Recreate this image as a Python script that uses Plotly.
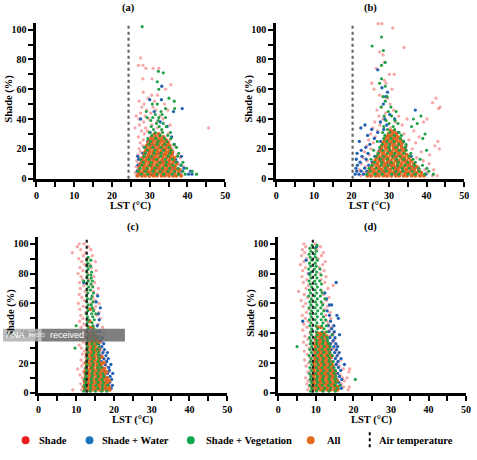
import plotly.graph_objects as go

# ---------------- data ----------------
series_names = ["Shade", "Shade + Water", "Shade + Vegetation", "All"]
panel_labels = ["(a)", "(b)", "(c)", "(d)"]
air_temp = [24.4, 20.3, 12.8, 9.2]

# panel (a)
a_shade_y = [2, 4, 6, 8, 10, 12, 14, 16, 18, 20, 22, 24, 26, 28, 30, 32, 34, 36, 38, 40,
             42, 44, 46, 48, 50, 52, 54, 56, 58, 60, 63, 67, 74, 76, 81]
a_shade_x = [
    [26.5, 28.2, 30.1, 33.4, 36.8, 38.5], [26.2, 27.5, 31.5, 35.6, 38.2], [26.8, 29.3, 34.1, 37.4],
    [26.4, 28.7, 32.6, 36.2, 38.9], [27.1, 30.4, 35.1, 37.6], [26.6, 29.1, 33.8, 36.9],
    [27.4, 31.2, 35.5, 38.1], [26.9, 28.5, 34.4, 37.2], [27.6, 30.8, 36.3], [27.2, 29.6, 33.1, 35.9],
    [28.1, 31.7, 36.6], [27.5, 29.9, 34.7], [28.3, 32.4, 35.3], [27.0, 30.2, 33.6], [28.6, 31.4, 34.9],
    [27.8, 29.4, 33.2], [26.1, 28.9, 32.0, 45.6], [27.3, 30.6, 35.4], [28.4, 31.9], [27.1, 29.8, 33.5],
    [26.4, 28.8, 32.7], [27.6, 30.3], [29.2, 31.6, 34.8], [27.9, 30.9], [28.5, 33.9], [27.2, 31.3],
    [29.6], [30.5, 32.1], [28.3], [34.2], [35.6], [28.2, 30.6], [29.0, 30.9, 32.4], [27.0, 28.2], [27.6],
]
a_water_y = [3, 5, 7, 9, 11, 13, 15, 17, 19, 21, 23, 25, 28, 31, 35, 38, 40, 45, 47, 53, 62]
a_water_x = [
    [27.0, 30.5, 34.2, 37.9, 40.3, 41.2], [26.7, 29.4, 33.1, 38.6, 40.8], [27.3, 31.8, 36.4, 39.1],
    [26.9, 30.2, 35.7, 38.3], [27.8, 33.6, 37.2], [27.1, 31.0, 36.8], [26.8, 29.7, 34.9, 38.4],
    [28.2, 32.5, 36.0], [29.1, 35.3], [28.6, 33.4], [30.7, 36.5], [29.5, 34.1], [31.6, 35.8],
    [30.1], [34.6], [32.8], [27.6], [31.2, 36.3], [38.6], [30.0, 33.1], [33.2],
]
a_veg_y = [3, 5, 7, 9, 11, 13, 15, 17, 19, 21, 23, 25, 27, 29, 31, 33, 35, 37, 39, 41, 43, 45, 47,
           50, 52, 54, 60, 65, 71, 72, 102]
a_veg_x = [
    [27.8, 29.5, 31.9, 33.7, 36.0, 37.6, 39.4, 42.4], [26.9, 28.8, 30.9, 32.8, 34.9, 36.6, 38.8, 41.3],
    [27.4, 29.3, 31.3, 33.4, 35.3, 37.5, 39.8], [27.9, 30.1, 32.0, 34.3, 36.2, 38.3],
    [28.3, 30.4, 32.7, 34.5, 36.9, 38.8], [27.6, 29.8, 31.8, 34.1, 36.0], [28.5, 30.5, 32.9, 34.9, 37.4],
    [28.9, 31.2, 33.1, 35.4, 37.7], [29.4, 31.4, 33.7, 35.7], [28.7, 30.8, 33.0, 35.1, 37.1],
    [29.8, 32.0, 34.0, 36.4], [30.2, 32.2, 34.6], [29.5, 31.6, 33.9, 35.6], [30.6, 32.8, 34.8],
    [29.9, 31.5, 33.4, 35.5], [31.0, 33.2], [30.4, 32.5, 34.4], [31.8, 33.6], [30.3, 32.3],
    [29.3, 30.8, 32.4, 34.2], [31.5, 33.3], [33.0, 29.1], [34.2, 36.6], [30.7, 32.0], [36.5], [35.1],
    [32.4], [32.0], [33.6], [32.3], [28.0],
]
a_all_y = [2, 4, 6, 8, 10, 12, 14, 16, 18, 20, 22, 24, 26, 28, 30]
a_all_x = [
    [26.8, 27.9, 28.8, 29.9, 31.0, 31.9, 33.1, 34.0, 35.1, 36.2, 37.1, 38.3],
    [27.1, 28.2, 29.3, 30.2, 31.3, 32.4, 33.3, 34.4, 35.3, 36.5, 37.6],
    [27.4, 28.5, 29.5, 30.6, 31.6, 32.7, 33.7, 34.7, 35.8, 36.8, 37.9],
    [27.3, 28.4, 29.4, 30.5, 31.5, 32.5, 33.6, 34.6, 35.7, 36.7],
    [27.7, 28.7, 29.8, 30.8, 31.9, 32.9, 33.9, 35.0, 36.0, 37.1],
    [28.0, 29.0, 30.0, 31.1, 32.1, 33.2, 34.2, 35.2, 36.3],
    [28.2, 29.2, 30.3, 31.3, 32.3, 33.4, 34.5, 35.5, 36.5],
    [28.6, 29.7, 30.7, 31.7, 32.8, 33.8, 34.8, 35.9],
    [28.8, 29.9, 30.9, 32.0, 33.0, 34.1, 35.1, 35.9],
    [29.1, 30.1, 31.2, 32.2, 33.3, 34.3, 35.4],
    [29.2, 30.2, 31.3, 32.3, 33.4, 34.4, 35.3],
    [29.6, 30.6, 31.7, 32.7, 33.8, 34.9],
    [30.1, 31.1, 32.2, 33.2, 34.3],
    [30.6, 31.6, 32.7, 33.7],
    [31.3, 32.4],
]

# panel (b)
b_shade_y = [2, 4, 6, 8, 10, 12, 14, 16, 18, 20, 22, 24, 25, 26, 28, 30, 32, 34, 36, 38, 40, 42,
             44, 46, 47, 48, 50, 51, 54, 56, 60, 64, 66, 70, 74, 78, 83, 85, 88, 101, 104]
b_shade_x = [
    [22.5, 25.3, 28.9, 33.8, 38.4, 41.6, 42.8], [23.4, 26.7, 31.2, 36.5, 40.2],
    [22.1, 24.8, 29.7, 35.1, 39.6, 41.9], [23.8, 27.4, 32.9, 37.8], [22.6, 25.9, 30.6, 36.9, 40.7],
    [24.2, 28.2, 34.3, 39.1], [23.1, 26.4, 31.8, 37.4], [24.7, 29.3, 35.6, 40.8],
    [23.5, 27.1, 33.2, 38.6], [25.2, 30.1, 36.2, 43.4], [24.1, 28.6, 34.7, 42.2], [25.8, 31.4, 37.1],
    [43.0], [24.6, 29.0, 35.3], [26.3, 32.2, 38.0], [25.1, 29.8, 34.0], [27.0, 31.0, 36.6],
    [25.7, 30.4], [27.6, 33.5], [26.2, 31.7, 39.2], [28.4, 34.8, 40.1], [27.3, 32.6], [29.1],
    [26.8, 31.2], [43.2], [28.0, 43.6], [30.3], [41.6], [29.6, 42.5], [27.5], [26.0, 30.8],
    [25.4, 29.2], [28.8], [30.1, 31.4], [26.6], [28.7], [28.4], [27.5], [34.0], [31.0], [27.1, 28.1],
]
b_water_y = [3, 5, 7, 9, 11, 13, 15, 17, 19, 21, 23, 25, 27, 29, 31, 33, 34, 36, 38, 40, 43, 46,
             50, 55, 58, 61, 73]
b_water_x = [
    [21.0, 22.0, 23.2, 26.9, 31.6, 36.4, 39.8], [21.4, 22.6, 24.1, 28.8, 33.5, 37.9],
    [21.2, 23.5, 27.3, 32.1, 36.8], [21.6, 24.6, 30.4, 35.2], [22.3, 25.5, 29.6, 34.6],
    [21.3, 23.9, 28.1, 33.7], [22.8, 26.2, 31.9, 35.9], [21.5, 24.4, 30.8], [22.6, 27.5, 33.0],
    [23.8, 29.2, 34.3], [24.9, 31.3], [22.1, 27.8, 33.9], [26.1, 30.6], [24.3, 29.9], [27.0, 32.4],
    [25.4, 28.6], [22.5], [23.6, 29.4], [27.7], [28.9, 31.5], [30.2], [37.0], [28.5], [29.1], [29.6],
    [28.1], [27.0],
]
b_veg_y = [3, 5, 7, 9, 11, 13, 15, 17, 19, 21, 23, 25, 27, 29, 30, 31, 33, 35, 37, 39, 40, 42, 45,
           48, 52, 55, 62, 64, 67, 76, 78, 86, 89, 95]
b_veg_x = [
    [24.1, 26.3, 28.2, 30.7, 32.6, 35.1, 37.0, 39.5, 41.8], [25.0, 27.4, 29.3, 31.8, 33.7, 36.2, 38.1, 40.6],
    [24.7, 26.6, 29.1, 31.0, 33.5, 35.4, 37.9, 40.1], [25.5, 27.9, 29.8, 32.3, 34.2, 36.7, 38.9],
    [26.2, 28.1, 30.6, 32.5, 35.0, 37.0], [25.2, 27.6, 29.5, 32.0, 33.9, 36.4, 38.3],
    [26.6, 28.5, 31.0, 32.9, 35.4], [27.1, 29.6, 31.5, 34.0, 35.8], [25.9, 28.3, 30.2, 32.7, 34.6, 40.0],
    [27.5, 29.9, 31.8, 34.3], [28.2, 30.1, 32.6, 34.5], [26.9, 29.4, 31.3, 33.8], [28.6, 30.5, 33.0, 39.0],
    [28.9, 31.4, 33.3], [39.6], [28.3, 30.2, 32.7], [29.6, 31.5], [28.6, 31.1, 36.0], [30.0, 32.4, 37.5],
    [29.2, 31.6], [36.5], [28.7, 30.7, 38.5], [29.8, 31.9], [27.9, 30.5], [29.0], [28.4, 29.5], [29.0],
    [27.5], [28.0], [28.0], [29.0], [28.5], [25.5], [28.0],
]
b_all_y = [2, 4, 6, 8, 10, 12, 14, 16, 18, 20, 22, 24, 26, 28, 30, 32]
b_all_x = [
    [24.2, 25.2, 26.4, 27.3, 28.5, 29.5, 30.6, 31.8, 32.7, 33.9, 34.8, 36.0, 37.0, 38.2, 39.3],
    [24.6, 25.8, 26.7, 27.9, 28.8, 30.0, 31.0, 32.2, 33.1, 34.3, 35.3, 36.5, 37.4, 38.6],
    [25.0, 26.0, 27.2, 28.1, 29.3, 30.3, 31.5, 32.4, 33.6, 34.6, 35.8, 36.7, 37.9],
    [25.4, 26.6, 27.5, 28.7, 29.6, 30.8, 31.7, 32.9, 34.0, 35.1, 36.1, 37.3],
    [25.9, 26.9, 28.1, 29.0, 30.2, 31.1, 32.3, 33.3, 34.5, 35.4, 36.6],
    [26.3, 27.4, 28.4, 29.6, 30.5, 31.7, 32.6, 33.8, 34.7, 35.9],
    [26.8, 27.7, 28.9, 29.8, 31.0, 31.9, 33.2, 34.1, 35.3],
    [27.1, 28.3, 29.2, 30.4, 31.3, 32.5, 33.5, 34.7],
    [27.6, 28.6, 29.8, 30.7, 31.9, 32.8, 34.0],
    [28.0, 29.2, 30.1, 31.3, 32.2, 33.4, 34.3],
    [28.1, 29.1, 30.2, 31.2, 32.3, 33.3],
    [28.4, 29.4, 30.5, 31.5, 32.6, 33.5],
    [28.9, 29.9, 31.0, 32.0, 33.1],
    [29.4, 30.4, 31.4, 32.4],
    [29.9, 30.9, 31.9],
    [30.4, 31.4],
]

# panel (c)
c_shade_y = [2, 4, 6, 8, 10, 12, 14, 16, 18, 20, 22, 24, 26, 28, 30, 32, 34, 36, 38, 40, 42, 44,
             46, 48, 50, 52, 54, 56, 58, 60, 62, 64, 66, 68, 70, 72, 74, 76, 78, 80, 82, 84, 86, 88,
             90, 92, 94, 96, 98, 100]
c_shade_x = [
    [9.1, 11.4], [11.8, 12.6], [11.2, 18.6], [12.1, 18.9], [11.6, 18.4], [11.0, 12.4], [11.9, 18.7],
    [10.4, 12.3], [11.5, 17.9], [12.0, 13.3], [11.3, 17.6], [12.5, 13.8], [11.7, 16.9], [12.2, 17.2],
    [11.4, 13.6, 16.5], [10.8, 12.7], [11.9, 16.8], [11.1, 12.9], [12.3, 16.2], [11.6, 17.4],
    [12.8, 14.1], [11.3, 17.0], [12.1, 15.8], [10.9, 13.4], [11.8, 16.4], [11.2, 15.5], [12.6, 16.0],
    [11.0, 14.8], [11.9, 15.2], [10.6, 13.9, 16.1], [12.2, 15.0], [11.5, 14.4], [10.8, 15.6],
    [12.4, 14.6], [11.1, 15.9], [12.0, 14.2], [10.9, 14.9], [11.7, 13.5], [11.3, 14.7], [10.5, 13.1],
    [11.8, 15.3], [11.0, 14.0], [12.3, 13.7], [11.5, 15.1], [10.7, 12.9], [11.9, 14.3], [9.0, 12.5],
    [11.2, 13.9], [10.3, 13.2], [10.8, 12.1],
]
c_water_y = [3, 5, 7, 9, 11, 13, 15, 17, 19, 21, 23, 25, 27, 29, 31, 33, 35, 37, 41, 45, 49, 53,
             57, 61, 65, 74]
c_water_x = [
    [17.8, 19.3], [18.5, 19.6], [17.2, 18.9], [18.1, 19.4], [17.6, 19.0], [18.3, 19.7], [17.4, 18.8],
    [16.9, 18.6], [17.7, 19.2], [16.6, 18.1], [17.3, 18.5], [16.4, 17.9], [17.1, 18.3], [16.2, 17.5],
    [16.8], [16.0, 17.3], [16.5], [15.8, 16.9], [16.3], [15.6], [16.1], [15.9], [16.4], [15.3],
    [15.7], [12.0],
]
c_veg_y = [1, 3, 5, 7, 9, 11, 13, 15, 17, 19, 21, 23, 25, 27, 29, 30, 31, 33, 35, 37, 39, 41, 43,
           45, 47, 49, 51, 53, 55, 57, 59, 61, 63, 65, 67, 69, 71, 73, 75, 77, 79, 81, 83, 85, 87,
           89, 91]
c_veg_x = [
    [12.0, 13.7, 15.1, 16.8, 18.1], [12.4, 13.9, 15.7, 17.0], [12.2, 13.8, 15.3, 17.0, 18.3],
    [12.6, 14.1, 15.8, 17.2], [12.3, 14.0, 15.4, 16.9], [12.7, 14.3, 15.9, 17.3],
    [12.5, 14.2, 15.6, 17.1], [12.8, 14.4, 16.0], [12.6, 14.1, 15.7, 16.6], [12.9, 14.5, 16.1],
    [12.7, 14.2, 15.8], [13.0, 14.6, 16.2], [12.8, 14.3, 15.9], [13.1, 14.7, 16.0], [12.9, 14.4, 15.6],
    [9.7], [13.0, 14.6, 16.1], [12.8, 14.2, 15.5], [13.2, 14.8], [12.9, 14.4, 15.7], [13.1, 14.6],
    [12.8, 14.3, 15.4], [13.2, 14.7], [10.0, 13.0, 14.5], [12.9, 14.2], [13.3, 14.8], [13.0, 14.4],
    [12.7, 14.1, 15.2], [13.1, 14.6], [12.9, 14.3], [13.2, 14.0], [12.8, 14.5], [13.0, 13.9],
    [12.7, 14.2], [13.1, 14.6], [12.9, 13.8], [13.3, 14.4], [12.8, 13.9], [12.0, 13.2, 14.3],
    [12.9, 14.0], [13.1, 13.9], [12.8, 14.1], [13.2], [12.9, 13.8], [13.1], [12.8, 13.9], [13.2],
]
c_all_y = [2, 4, 6, 8, 10, 12, 14, 16, 18, 20, 22, 24, 26, 28, 30, 32, 34, 36, 38, 40, 44, 48, 56]
c_all_x = [
    [12.3, 13.2, 14.2, 15.1, 16.1, 17.0, 18.0, 18.9], [12.1, 13.0, 14.0, 14.9, 15.9, 16.8, 17.8, 18.7],
    [12.4, 13.4, 14.3, 15.3, 16.2, 17.2, 18.1], [12.2, 13.1, 14.1, 15.0, 16.0, 16.9, 17.9, 18.8],
    [12.5, 13.5, 14.4, 15.4, 16.3, 17.3, 18.2], [12.6, 13.6, 14.5, 15.5, 16.4, 17.4],
    [12.4, 13.3, 14.3, 15.2, 16.2, 17.1, 18.0], [12.7, 13.7, 14.6, 15.6, 16.5, 17.5],
    [12.8, 13.8, 14.7, 15.7, 16.6], [12.6, 13.6, 14.5, 15.5, 16.4, 17.3], [12.9, 13.9, 14.8, 15.8],
    [13.0, 14.0, 14.9, 15.9, 16.8], [12.8, 13.8, 14.7, 15.7], [13.1, 14.1, 15.0, 16.0],
    [13.0, 14.0, 14.9, 15.9], [13.2, 14.2, 15.1], [13.1, 14.0, 15.0, 15.9], [13.3, 14.2, 15.2],
    [13.4, 14.4, 15.3], [13.5, 14.5], [13.4, 14.3], [13.6], [13.7],
]

# panel (d)
d_shade_y = [2, 4, 6, 8, 10, 12, 14, 16, 18, 20, 22, 24, 26, 28, 30, 32, 34, 36, 38, 40, 42, 44,
             46, 48, 50, 52, 54, 56, 58, 60, 62, 64, 66, 68, 70, 72, 74, 76, 78, 80, 82, 84, 86, 88,
             90, 92, 94, 96, 98, 100]
d_shade_x = [
    [7.8, 18.6], [8.3, 17.4, 18.9], [7.6, 16.8], [8.0, 17.6], [7.3, 17.1, 18.3], [8.5, 16.5],
    [7.9, 18.8], [8.6, 17.3, 19.0], [7.4, 16.2], [8.1, 15.7], [7.0, 16.6], [8.4, 15.4], [7.7, 16.0],
    [6.9, 15.2], [8.2, 14.8], [7.5, 15.6], [6.7, 14.5], [7.9, 15.0], [7.1, 13.9], [8.4, 14.7],
    [6.5, 13.6], [7.6, 14.2], [6.8, 13.3], [7.9, 12.9], [7.2, 14.0], [6.4, 12.6], [7.5, 13.8],
    [8.2, 12.3], [6.6, 13.1], [7.3, 11.9], [6.1, 12.8], [7.8, 13.5], [6.9, 12.1], [5.4, 11.6],
    [7.4, 13.2], [8.0, 14.6], [6.7, 12.4], [7.6, 11.4], [6.3, 12.7], [7.9, 11.1], [6.5, 12.2],
    [7.2, 10.9], [5.9, 11.8], [6.8, 12.5], [7.5, 10.6], [6.2, 11.5], [7.0, 12.0], [6.4, 10.3],
    [7.3, 11.2], [6.8, 9.9],
]
d_water_y = [3, 5, 7, 9, 11, 13, 15, 17, 19, 21, 23, 25, 27, 29, 31, 33, 35, 37, 39, 41, 43, 45,
             48, 50, 52, 55, 59, 63, 67, 74, 80, 89, 98]
d_water_x = [
    [15.9, 16.8], [15.3, 16.5], [16.1], [15.6, 16.9], [14.9, 16.3], [15.8], [15.1, 16.6], [14.7, 16.0],
    [15.4, 17.6], [14.5, 15.9], [15.2, 16.7], [14.3, 15.7], [15.0, 16.2], [14.1, 15.5], [14.8, 15.8],
    [13.9, 15.3], [14.6], [13.7, 15.1], [14.4, 16.3], [13.5, 14.9], [14.2], [13.3, 14.8], [6.5, 13.9],
    [16.0], [13.6, 15.6], [13.0], [13.6, 14.2], [12.8], [12.4], [15.4], [8.2], [7.4], [10.2],
]
d_veg_y = [1, 3, 5, 7, 9, 11, 13, 15, 17, 19, 21, 23, 25, 27, 29, 31, 33, 35, 37, 39, 41, 43, 45,
           47, 49, 51, 53, 55, 57, 59, 61, 63, 65, 67, 69, 71, 73, 75, 77, 79, 81, 83, 85, 87, 89,
           91, 93, 95, 97, 99]
d_veg_x = [
    [8.6, 10.2, 11.9, 13.5, 15.2], [8.9, 10.6, 12.3, 13.9, 15.6], [8.4, 10.1, 11.7, 13.4, 15.0, 16.4],
    [8.8, 10.5, 12.1, 13.8, 15.4], [8.5, 10.2, 11.8, 13.5, 15.1, 20.5], [8.7, 10.4, 12.0, 13.7, 15.3],
    [8.3, 10.0, 11.6, 13.3, 14.9], [8.8, 10.5, 12.1, 13.8, 15.2], [8.4, 10.1, 11.7, 13.4, 14.8],
    [8.9, 10.6, 12.2, 13.9], [8.5, 10.2, 11.8, 13.5, 14.6], [8.7, 10.4, 12.0, 13.6],
    [8.2, 9.9, 11.5, 13.2, 14.4], [8.8, 10.5, 12.1, 13.7], [8.4, 10.0, 11.7, 13.3],
    [5.0, 8.9, 10.6, 12.2, 13.8], [8.5, 10.2, 11.8, 13.4], [8.7, 10.3, 12.0, 13.1],
    [8.3, 9.9, 11.6, 13.0], [8.8, 10.4, 12.1, 14.3], [8.6, 10.1, 11.7, 12.9], [8.9, 10.5, 12.2],
    [8.4, 10.0, 11.6, 12.8], [8.7, 10.3, 11.9], [8.3, 9.8, 11.4, 12.6], [8.8, 10.4, 12.0],
    [8.5, 10.0, 11.5], [8.9, 10.5, 12.1], [8.2, 9.8, 11.3], [8.7, 10.3, 11.8], [8.4, 9.9, 11.4],
    [8.8, 10.4, 12.4], [8.1, 9.7, 11.2], [8.6, 10.2, 11.7], [8.3, 9.8, 11.3], [8.9, 10.4],
    [8.5, 10.0, 11.5], [8.2, 9.7, 11.0], [8.7, 10.3], [8.4, 9.9, 11.4], [8.8, 10.2], [8.1, 9.6, 11.1],
    [8.6, 10.1], [8.3, 9.8], [8.9, 10.4], [8.5, 9.9], [8.2, 9.7], [8.7, 10.1], [8.4, 9.8], [9.0, 10.3],
]
d_all_y = [2, 4, 6, 8, 10, 12, 14, 16, 18, 20, 22, 24, 26, 28, 30, 32, 34, 36, 38, 40, 44]
d_all_x = [
    [9.3, 10.2, 11.2, 12.1, 13.1, 14.0, 15.0, 15.8], [9.1, 10.0, 11.0, 11.9, 12.9, 13.8, 14.8, 15.7],
    [9.4, 10.4, 11.3, 12.3, 13.2, 14.2, 15.1], [9.2, 10.1, 11.1, 12.0, 13.0, 13.9, 14.9, 15.6],
    [9.5, 10.5, 11.4, 12.4, 13.3, 14.3, 15.2], [9.3, 10.3, 11.2, 12.2, 13.1, 14.1, 15.0],
    [9.6, 10.6, 11.5, 12.5, 13.4, 14.4, 15.1], [9.4, 10.4, 11.3, 12.3, 13.2, 14.2],
    [9.7, 10.7, 11.6, 12.6, 13.5, 14.5], [9.5, 10.5, 11.4, 12.4, 13.3, 14.2],
    [9.8, 10.8, 11.7, 12.7, 13.6], [9.6, 10.6, 11.5, 12.5, 13.4, 14.1], [9.9, 10.9, 11.8, 12.8, 13.7],
    [9.7, 10.7, 11.6, 12.6, 13.5], [10.0, 11.0, 11.9, 12.9, 13.6], [9.8, 10.8, 11.7, 12.7, 13.4],
    [10.1, 11.1, 12.0, 13.0], [9.9, 10.9, 11.8, 12.8], [10.2, 11.2, 12.1, 12.9], [10.4, 11.3, 12.2],
    [10.5, 11.4],
]

# ---------------- figure ----------------
W, H = 477, 460


def px(x):
    return x / W


def py(y):
    return 1 - y / H


def flatten(rows_x, rows_y):
    xs, ys = [], []
    for xr, yv in zip(rows_x, rows_y):
        xs += xr
        ys += [yv] * len(xr)
    return xs, ys


panels = [
    [(a_shade_x, a_shade_y), (a_water_x, a_water_y), (a_veg_x, a_veg_y), (a_all_x, a_all_y)],
    [(b_shade_x, b_shade_y), (b_water_x, b_water_y), (b_veg_x, b_veg_y), (b_all_x, b_all_y)],
    [(c_shade_x, c_shade_y), (c_water_x, c_water_y), (c_veg_x, c_veg_y), (c_all_x, c_all_y)],
    [(d_shade_x, d_shade_y), (d_water_x, d_water_y), (d_veg_x, d_veg_y), (d_all_x, d_all_y)],
]

plot_colors = ["rgba(238,95,95,0.55)", "#2162b3", "#21a046", "#e2661d"]
legend_colors = ["#e8191f", "#1b75bc", "#10a64a", "#e36c1e"]
marker_sizes = [3.3, 3.3, 3.1, 4.0]
draw_order = [0, 1, 3, 2]  # vegetation rows sit on top of the "All" bands
vline_colors = ["#666666", "#666666", "#222222", "#222222"]

# pixel boxes of each panel: x of 0, x of 50, y of 0
boxes = [(34, 226, 181), (278, 469, 181), (36, 228, 398), (280, 471, 398)]
y_top = 104.5
px_per_pct = 1.51
title_pos = [(128, 8), (374, 8), (132, 230), (374, 230)]

serif = "Liberation Serif"
fig = go.Figure()
layout = {}
annotations = []
shapes = []


def note(text, x, y, font, xanchor="center", angle=0):
    annotations.append(dict(text=text, x=px(x), y=py(y), xref="paper", yref="paper",
                            xanchor=xanchor, yanchor="middle", showarrow=False,
                            textangle=angle, font=font))


for i, series in enumerate(panels):
    sfx = "" if i == 0 else str(i + 1)
    for j in draw_order:
        rx, ry = series[j]
        xs, ys = flatten(rx, ry)
        fig.add_trace(go.Scatter(
            x=xs, y=ys, mode="markers", name=series_names[j], showlegend=False,
            xaxis="x" + sfx, yaxis="y" + sfx, cliponaxis=False,
            marker=dict(size=marker_sizes[j], color=plot_colors[j], line=dict(width=0)),
        ))
    x0, x50, y0 = boxes[i]
    ytop = y0 - y_top * px_per_pct
    tickfont = dict(family=serif, size=10, color="black", weight="bold")
    layout["xaxis" + sfx] = dict(
        domain=[px(x0), px(x50)], anchor="y" + sfx, range=[0, 50],
        tickvals=[0, 10, 20, 30, 40, 50], ticks="outside", ticklen=5, tickwidth=2,
        tickcolor="black", showline=True, linewidth=3, linecolor="black",
        showgrid=False, zeroline=False, tickfont=tickfont,
        minor=dict(dtick=5, ticks="outside", ticklen=5, tickwidth=2, tickcolor="black", showgrid=False),
    )
    layout["yaxis" + sfx] = dict(
        domain=[py(y0), py(ytop)], anchor="x" + sfx, range=[0, y_top],
        tickvals=[0, 20, 40, 60, 80, 100], ticks="outside", ticklen=5, tickwidth=2,
        tickcolor="black", showline=True, linewidth=3, linecolor="black",
        showgrid=False, zeroline=False, tickfont=tickfont,
        minor=dict(dtick=10, ticks="outside", ticklen=5, tickwidth=2, tickcolor="black", showgrid=False),
    )
    shapes.append(dict(
        type="line", xref="x" + sfx, yref="y" + sfx + " domain",
        x0=air_temp[i], x1=air_temp[i], y0=0, y1=1,
        line=dict(color=vline_colors[i], width=2.2, dash="dot"),
    ))
    bold = dict(family=serif, size=10.5, color="black", weight="bold")
    tx, ty = title_pos[i]
    note(panel_labels[i], tx, ty, bold)
    note("LST (°C)", (x0 + x50) / 2, y0 + 28, bold)
    note("Shade (%)", x0 - 28, (y0 + ytop) / 2 - 2, bold, angle=-90)

# legend row drawn along the bottom
leg_y = 446
dot_x = [23, 88, 191, 313]
text_x = [35, 99, 204, 327]
leg_font = dict(family=serif, size=10.5, color="black", weight="bold")
for k in range(4):
    shapes.append(dict(type="circle", xref="paper", yref="paper",
                       x0=px(dot_x[k] - 4), x1=px(dot_x[k] + 4), y0=py(leg_y + 4), y1=py(leg_y - 4),
                       fillcolor=legend_colors[k], line=dict(width=0)))
    note(series_names[k], text_x[k], leg_y, leg_font, xanchor="left")
shapes.append(dict(type="line", xref="paper", yref="paper", x0=px(373), x1=px(373),
                   y0=py(438), y1=py(456), line=dict(color="black", width=2, dash="dot")))
note("Air temperature", 380, leg_y, leg_font, xanchor="left")

# watermark strip over panel (c)
shapes.append(dict(type="rect", xref="paper", yref="paper", x0=0, x1=px(39), y0=py(346), y1=py(333),
                   fillcolor="rgba(175,175,175,0.85)", line=dict(width=0), layer="above"))
shapes.append(dict(type="rect", xref="paper", yref="paper", x0=px(39), x1=px(124), y0=py(346), y1=py(333),
                   fillcolor="rgba(105,105,105,0.85)", line=dict(width=0), layer="above"))
wm_font = dict(family="Liberation Sans", size=9, color="white")
note("ANA", 1, 339.5, wm_font, xanchor="left")
note("PHOTO", 24, 340, dict(family="Liberation Sans", size=4.5, color="white"), xanchor="left")
note("received", 46, 339.5, wm_font, xanchor="left")

fig.update_layout(
    width=W, height=H, margin=dict(l=0, r=0, t=0, b=0),
    paper_bgcolor="white", plot_bgcolor="white",
    font=dict(family=serif, size=10, color="black"),
    showlegend=False, annotations=annotations, shapes=shapes, **layout,
)

fig.write_html("out.html", config={"displayModeBar": False},
               post_script="document.body.style.margin='0px';document.body.style.overflow='hidden';")
